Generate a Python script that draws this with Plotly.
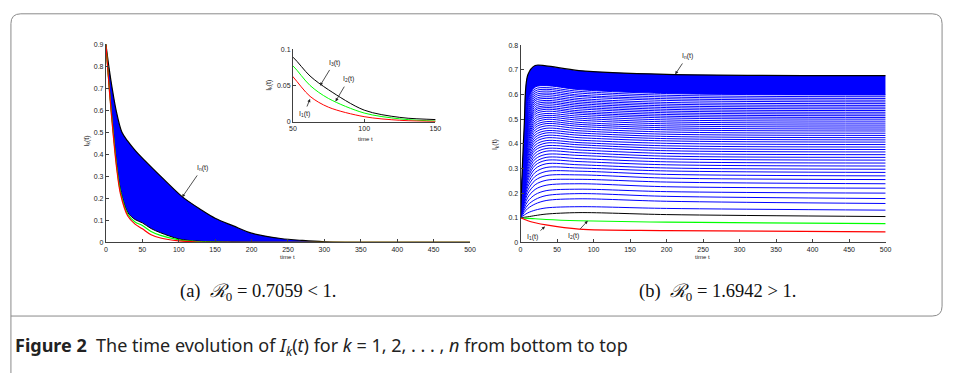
import plotly.graph_objects as go

W, H = 955, 373

# ---------------- Panel (a): R0 = 0.7059 < 1 ----------------
ta_top = [0, 4, 8.6, 14, 22, 30, 41, 60, 80, 105, 130, 150, 175, 200, 240, 270, 300, 350, 400, 500]
In_a = [0.9, 0.8, 0.7, 0.6, 0.5, 0.46, 0.415, 0.35, 0.285, 0.207, 0.15, 0.11, 0.075, 0.042,
        0.018, 0.009, 0.003, 0.0005, 0, 0]

ta_low = [0, 5, 10, 15, 20, 30, 40, 50, 62, 75, 100, 125, 150, 200, 300, 500]
I1_a = [0.9, 0.68, 0.49, 0.33, 0.22, 0.12, 0.083, 0.062, 0.035, 0.020, 0.007, 0.002, 0.0005, 0, 0, 0]
I2_a = [0.9, 0.685, 0.50, 0.34, 0.23, 0.128, 0.093, 0.077, 0.050, 0.032, 0.012, 0.004, 0.001, 0, 0, 0]
I3_a = [0.9, 0.69, 0.51, 0.35, 0.24, 0.136, 0.104, 0.089, 0.063, 0.044, 0.016, 0.006, 0.003, 0.0005, 0, 0]

# ---------------- Panel (b): R0 = 1.6942 > 1 ----------------
tb = [0, 5, 10, 20, 35, 80, 200, 500]
In_b = [0.1, 0.47, 0.68, 0.718, 0.716, 0.697, 0.682, 0.677]
I1_b = [0.1, 0.094, 0.088, 0.080, 0.071, 0.054, 0.048, 0.043]
I2_b = [0.1, 0.099, 0.098, 0.096, 0.093, 0.088, 0.082, 0.076]
I3_b = [0.1, 0.102, 0.104, 0.109, 0.115, 0.121, 0.113, 0.105]
blue_b = [
    [0.1, 0.111, 0.120, 0.131, 0.140, 0.145, 0.138, 0.131],
    [0.1, 0.121, 0.138, 0.156, 0.170, 0.177, 0.167, 0.158],
    [0.1, 0.130, 0.152, 0.174, 0.190, 0.198, 0.187, 0.178],
    [0.1, 0.139, 0.167, 0.194, 0.210, 0.216, 0.206, 0.200],
    [0.1, 0.148, 0.183, 0.215, 0.232, 0.238, 0.226, 0.220],
    [0.1, 0.157, 0.198, 0.234, 0.252, 0.256, 0.245, 0.238],
    [0.1, 0.165, 0.212, 0.252, 0.271, 0.274, 0.261, 0.255],
    [0.1, 0.173, 0.226, 0.268, 0.288, 0.289, 0.276, 0.270],
    [0.1, 0.181, 0.238, 0.284, 0.304, 0.302, 0.290, 0.284],
    [0.1, 0.189, 0.251, 0.299, 0.319, 0.315, 0.302, 0.297],
    [0.1, 0.196, 0.262, 0.313, 0.333, 0.328, 0.315, 0.310],
    [0.1, 0.202, 0.273, 0.325, 0.345, 0.340, 0.327, 0.322],
    [0.1, 0.209, 0.285, 0.338, 0.357, 0.353, 0.339, 0.334],
    [0.1, 0.215, 0.296, 0.350, 0.370, 0.364, 0.350, 0.345],
    [0.1, 0.223, 0.307, 0.362, 0.381, 0.375, 0.361, 0.356],
    [0.1, 0.229, 0.319, 0.374, 0.392, 0.386, 0.372, 0.367],
    [0.1, 0.236, 0.329, 0.384, 0.403, 0.396, 0.382, 0.377],
    [0.1, 0.242, 0.338, 0.395, 0.413, 0.405, 0.392, 0.387],
    [0.1, 0.249, 0.349, 0.406, 0.424, 0.415, 0.402, 0.397],
    [0.1, 0.254, 0.359, 0.416, 0.434, 0.425, 0.412, 0.407],
    [0.1, 0.260, 0.368, 0.426, 0.444, 0.435, 0.421, 0.416],
    [0.1, 0.266, 0.377, 0.436, 0.453, 0.444, 0.430, 0.425],
    [0.1, 0.272, 0.386, 0.446, 0.463, 0.453, 0.439, 0.434],
    [0.1, 0.278, 0.396, 0.456, 0.473, 0.462, 0.448, 0.443],
    [0.1, 0.284, 0.405, 0.466, 0.482, 0.471, 0.457, 0.452],
    [0.1, 0.290, 0.413, 0.475, 0.490, 0.479, 0.465, 0.460],
    [0.1, 0.295, 0.422, 0.484, 0.499, 0.487, 0.473, 0.468],
    [0.1, 0.301, 0.430, 0.493, 0.507, 0.496, 0.481, 0.476],
    [0.1, 0.307, 0.438, 0.502, 0.515, 0.504, 0.489, 0.484],
    [0.1, 0.312, 0.447, 0.511, 0.523, 0.512, 0.497, 0.492],
    [0.1, 0.318, 0.456, 0.520, 0.532, 0.520, 0.505, 0.500],
    [0.1, 0.323, 0.464, 0.528, 0.540, 0.527, 0.512, 0.507],
    [0.1, 0.329, 0.472, 0.536, 0.547, 0.534, 0.519, 0.514],
    [0.1, 0.334, 0.480, 0.543, 0.554, 0.542, 0.526, 0.521],
    [0.1, 0.339, 0.488, 0.551, 0.562, 0.549, 0.533, 0.528],
    [0.1, 0.345, 0.496, 0.559, 0.569, 0.556, 0.540, 0.535],
    [0.1, 0.350, 0.505, 0.567, 0.576, 0.563, 0.547, 0.542],
    [0.1, 0.356, 0.513, 0.575, 0.584, 0.570, 0.554, 0.549],
    [0.1, 0.361, 0.521, 0.582, 0.591, 0.577, 0.561, 0.556],
    [0.1, 0.366, 0.530, 0.590, 0.599, 0.584, 0.568, 0.563],
    [0.1, 0.373, 0.539, 0.598, 0.606, 0.592, 0.576, 0.570],
    [0.1, 0.377, 0.548, 0.606, 0.614, 0.598, 0.583, 0.577],
    [0.1, 0.386, 0.556, 0.614, 0.621, 0.606, 0.590, 0.584],
    [0.1, 0.392, 0.564, 0.622, 0.628, 0.613, 0.597, 0.591],
    [0.1, 0.399, 0.573, 0.630, 0.636, 0.620, 0.604, 0.598],
]

BLUE, RED, GREEN, BLACK = "#0000ff", "#ff0000", "#00ff00", "#000000"


def px(x):
    return x / W


def py(y):
    return 1 - y / H


fig = go.Figure()


def line(x, y, color, width, ax="x", ay="y", fill=None, fillcolor=None):
    fig.add_trace(go.Scatter(x=x, y=y, mode="lines", xaxis=ax, yaxis=ay,
                             line=dict(color=color, width=width, shape="spline", smoothing=0.9),
                             fill=fill, fillcolor=fillcolor, hoverinfo="skip", showlegend=False))


# Panel (a): blue band between I3 and In
line(ta_low, I3_a, "rgba(0,0,0,0)", 0)
line(ta_top, In_a, "rgba(0,0,0,0)", 0, fill="tonexty", fillcolor=BLUE)
line(ta_top, In_a, BLACK, 1.2)
line(ta_low, I3_a, BLACK, 1.0)
line(ta_low, I2_a, GREEN, 1.2)
line(ta_low, I1_a, RED, 1.2)

# Inset of (a)
line(ta_low, I3_a, BLACK, 1.0, "x2", "y2")
line(ta_low, I2_a, GREEN, 1.0, "x2", "y2")
line(ta_low, I1_a, RED, 1.0, "x2", "y2")

# Panel (b)
for row in blue_b:
    line(tb, row, BLUE, 1.0, "x3", "y3")
line(tb, blue_b[-1], "rgba(0,0,0,0)", 0, "x3", "y3")
line(tb, In_b, "rgba(0,0,0,0)", 0, "x3", "y3", fill="tonexty", fillcolor=BLUE)
line(tb, In_b, BLACK, 1.2, "x3", "y3")
line(tb, I3_b, BLACK, 1.0, "x3", "y3")
line(tb, I2_b, GREEN, 1.2, "x3", "y3")
line(tb, I1_b, RED, 1.2, "x3", "y3")

axis_common = dict(showline=True, linecolor="#404040", linewidth=1, ticks="inside", ticklen=3,
                   tickcolor="#404040", showgrid=False, zeroline=False,
                   tickfont=dict(family="Liberation Sans, Arial", size=7, color="#222"))

fig.update_layout(
    width=W, height=H, margin=dict(l=0, r=0, t=0, b=0),
    paper_bgcolor="white", plot_bgcolor="rgba(0,0,0,0)",
    xaxis=dict(domain=[px(103), px(471)], range=[0, 500], dtick=50, anchor="y", **axis_common),
    yaxis=dict(domain=[py(243), py(41)], range=[0, 0.9], dtick=0.1, anchor="x", **axis_common),
    xaxis2=dict(domain=[px(292), px(436)], range=[50, 150], dtick=50, anchor="y2", **axis_common),
    yaxis2=dict(domain=[py(120), py(46)], range=[0, 0.1], dtick=0.05, anchor="x2", **axis_common),
    xaxis3=dict(domain=[px(522), px(891)], range=[0, 500], dtick=50, anchor="y3", **axis_common),
    yaxis3=dict(domain=[py(243), py(42)], range=[0, 0.8], dtick=0.1, anchor="x3", **axis_common),
)

small = dict(family="Liberation Sans, Arial", size=7, color="#222")
tiny = dict(family="Liberation Sans, Arial", size=6, color="#222")
annots = []


def label(x, y, text, angle=0, font=small, xanchor="center"):
    annots.append(dict(x=px(x), y=py(y), xref="paper", yref="paper", text=text, showarrow=False,
                       textangle=angle, font=font, xanchor=xanchor, yanchor="middle"))


label(287, 258, "time t", font=tiny)
label(84, 140, "I<sub>k</sub>(t)", angle=-90)
label(365, 138, "time t", font=tiny)
label(268, 83, "I<sub>k</sub>(t)", angle=-90)
label(706, 258, "time t", font=tiny)
label(497, 143, "I<sub>k</sub>(t)", angle=-90)


def arrow(xa, ya, x, y, dx, dy, text):
    annots.append(dict(x=x, y=y, xref=xa, yref=ya, ax=dx, ay=dy, text=text, showarrow=True,
                       arrowhead=2, arrowsize=0.8, arrowwidth=0.8, arrowcolor="#222",
                       standoff=0, startstandoff=2, font=small))


arrow("x", "y", 104.6, 0.205, 20, -29, "I<sub>n</sub>(t)")
arrow("x2", "y2", 69, 0.0496, 14, -23, "I<sub>3</sub>(t)")
arrow("x2", "y2", 79.9, 0.028, 13, -22, "I<sub>2</sub>(t)")
arrow("x2", "y2", 62, 0.0315, -6, 15, "I<sub>1</sub>(t)")
arrow("x3", "y3", 211.8, 0.682, 12, -18, "I<sub>n</sub>(t)")
arrow("x3", "y3", 33.5, 0.0649, -12, 11, "I<sub>1</sub>(t)")
arrow("x3", "y3", 92, 0.0876, -14, 15, "I<sub>2</sub>(t)")

serif = dict(family="Liberation Serif, DejaVu Serif, serif", size=18.5, color="#111")
label(257, 294, "(a)  <i>ℛ</i><sub>0</sub> = 0.7059 &lt; 1.", font=serif)
label(721, 294, "(b)  <i>ℛ</i><sub>0</sub> = 1.6942 &gt; 1.", font=serif)

cap = dict(family="Noto Sans, Open Sans, sans-serif", size=18, color="#222")
label(9, 349, "<b>Figure 2</b>  The time evolution of <i>I</i><sub><i>k</i></sub>(<i>t</i>) for "
              "<i>k</i> = 1, 2, . . . , <i>n</i> from bottom to top", font=cap, xanchor="left")

fig.update_layout(annotations=annots)

# Rounded frame
frame = (f"M {px(7)},{py(380)} L {px(7)},{py(20)} Q {px(7)},{py(10)} {px(17)},{py(10)} "
         f"L {px(938)},{py(10)} Q {px(948)},{py(10)} {px(948)},{py(20)} L {px(948)},{py(308)} "
         f"Q {px(948)},{py(318)} {px(938)},{py(318)} L {px(7)},{py(318)}")
fig.add_shape(type="path", path=frame, xref="paper", yref="paper",
              line=dict(color="#8a8a8a", width=1))

fig.write_html("out.html")
